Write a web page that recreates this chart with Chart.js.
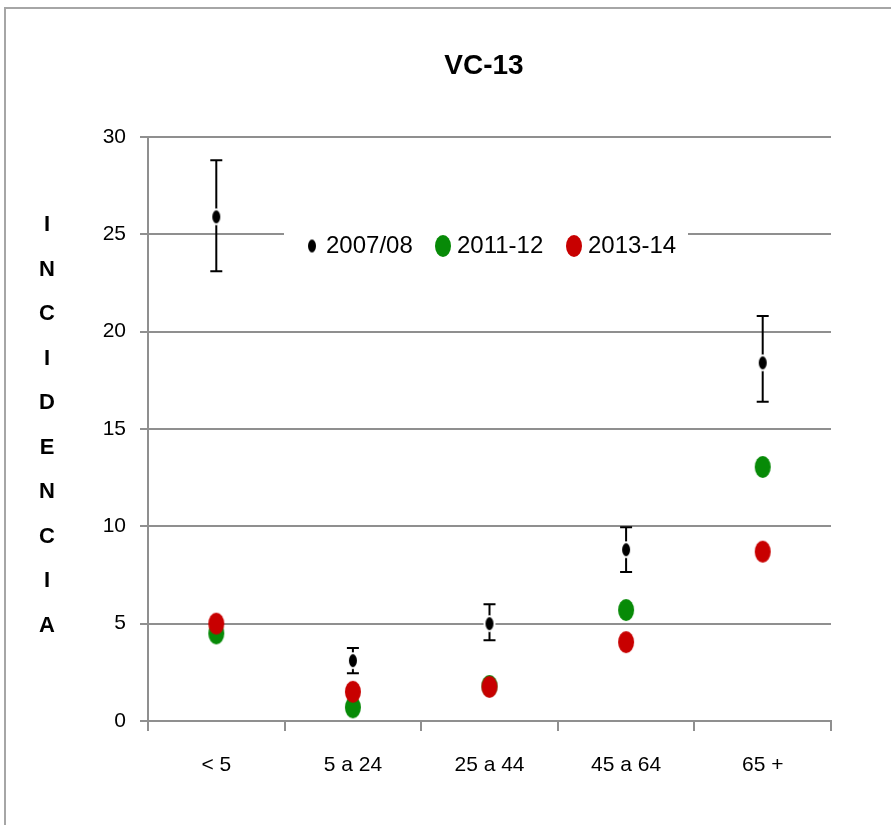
<!DOCTYPE html>
<html>
<head>
<meta charset="utf-8">
<script src="https://cdn.jsdelivr.net/npm/chart.js@4.4.1/dist/chart.umd.min.js"></script>
<style>
  html, body { margin: 0; padding: 0; background: #fff; }
  #wrap { width: 891px; height: 825px; }
</style>
</head>
<body>
<div id="wrap"><canvas id="chart" width="891" height="825"></canvas></div>
<script>
// Datos
const ageGroups = ['< 5', '5 a 24', '25 a 44', '45 a 64', '65 +'];
const season0708 = [25.9, 3.1, 5.0, 8.8, 18.4];
const err0708Low = [23.1, 2.45, 4.15, 7.65, 16.4];
const err0708High = [28.8, 3.75, 6.0, 9.95, 20.8];
const season1112 = [4.5, 0.7, 1.8, 5.7, 13.05];
const season1314 = [5.0, 1.5, 1.75, 4.05, 8.7];
const yTicks = [0, 5, 10, 15, 20, 25, 30];
const axisLetters = ['I', 'N', 'C', 'I', 'D', 'E', 'N', 'C', 'I', 'A'];

const FONT = '"Liberation Sans", Arial, sans-serif';
const GRID = '#8f8f8f';

// punto elíptico (la imagen original está algo estirada en vertical)
function ellipse(w, h, color, outline) {
  const pad = outline ? 2 : 0;
  const c = document.createElement('canvas');
  c.width = w + pad * 2 + 2;
  c.height = h + pad * 2 + 2;
  const ctx = c.getContext('2d');
  ctx.beginPath();
  ctx.ellipse(c.width / 2, c.height / 2, w / 2, h / 2, 0, 0, Math.PI * 2);
  if (outline) {
    ctx.lineWidth = pad * 2;
    ctx.strokeStyle = '#fff';
    ctx.stroke();
  }
  ctx.fillStyle = color;
  ctx.fill();
  return c;
}

const dotBlack = ellipse(8, 13, '#000', true);
const dotGreen = ellipse(16, 22, '#078a07', false);
const dotRed = ellipse(16, 22, '#c80000', false);

const frame = {
  id: 'frame',
  beforeDraw(chart) {
    const ctx = chart.ctx;
    ctx.save();
    ctx.fillStyle = '#fff';
    ctx.fillRect(0, 0, chart.width, chart.height);
    ctx.strokeStyle = '#a6a6a6';
    ctx.lineWidth = 2;
    ctx.beginPath();
    ctx.moveTo(5, chart.height);
    ctx.lineTo(5, 8);
    ctx.lineTo(chart.width, 8);
    ctx.stroke();
    ctx.restore();
  },
  afterDraw(chart) {
    const ctx = chart.ctx;
    ctx.save();
    ctx.fillStyle = '#000';
    ctx.textAlign = 'center';
    ctx.textBaseline = 'middle';
    ctx.font = 'bold 28px ' + FONT;
    ctx.fillText('VC-13', 484, 66);
    ctx.font = 'bold 22px ' + FONT;
    axisLetters.forEach((l, i) => ctx.fillText(l, 47, 225 + i * 44.5));
    ctx.restore();
  }
};

// barras de error de la temporada 2007/08
const errorBars = {
  id: 'errorBars',
  beforeDatasetsDraw(chart) {
    const { ctx, scales: { x, y } } = chart;
    ctx.save();
    ctx.strokeStyle = '#000';
    ctx.lineWidth = 2;
    ageGroups.forEach((g, i) => {
      const px = x.getPixelForValue(i);
      const top = y.getPixelForValue(err0708High[i]);
      const bot = y.getPixelForValue(err0708Low[i]);
      ctx.beginPath();
      ctx.moveTo(px, top); ctx.lineTo(px, bot);
      ctx.moveTo(px - 6, top); ctx.lineTo(px + 6, top);
      ctx.moveTo(px - 6, bot); ctx.lineTo(px + 6, bot);
      ctx.stroke();
    });
    ctx.restore();
  }
};

// leyenda dentro del área de trazado
const insideLegend = {
  id: 'insideLegend',
  afterDatasetsDraw(chart) {
    const ctx = chart.ctx;
    ctx.save();
    ctx.fillStyle = '#fff';
    ctx.fillRect(284, 228, 404, 36);
    ctx.fillStyle = '#000';
    ctx.font = '24px ' + FONT;
    ctx.textBaseline = 'middle';
    const items = [
      { img: dotBlack, cx: 312, tx: 326, text: '2007/08' },
      { img: dotGreen, cx: 443, tx: 457, text: '2011-12' },
      { img: dotRed, cx: 574, tx: 588, text: '2013-14' }
    ];
    items.forEach(it => {
      ctx.drawImage(it.img, it.cx - it.img.width / 2, 246 - it.img.height / 2);
      ctx.fillText(it.text, it.tx, 246);
    });
    ctx.restore();
  }
};

new Chart(document.getElementById('chart'), {
  type: 'line',
  data: {
    labels: ageGroups,
    datasets: [
      { label: '2007/08', data: season0708, pointStyle: dotBlack, showLine: false, order: 0 },
      { label: '2013-14', data: season1314, pointStyle: dotRed, showLine: false, order: 1 },
      { label: '2011-12', data: season1112, pointStyle: dotGreen, showLine: false, order: 2 }
    ]
  },
  options: {
    responsive: false,
    animation: false,
    events: [],
    layout: { padding: { left: 0, top: 137, right: 60, bottom: 0 } },
    plugins: { legend: { display: false }, tooltip: { enabled: false }, title: { display: false } },
    scales: {
      x: {
        offset: true,
        grid: { offset: true, drawOnChartArea: false, drawTicks: true, tickLength: 10, color: GRID, lineWidth: 2 },
        border: { color: GRID, width: 2 },
        ticks: { color: '#000', font: { family: FONT, size: 21 }, padding: 22 },
        afterFit: s => { s.height = 104; }
      },
      y: {
        min: 0,
        max: 30,
        afterBuildTicks: s => { s.ticks = yTicks.map(v => ({ value: v })); },
        grid: { color: GRID, lineWidth: 2, tickLength: 8 },
        border: { color: GRID, width: 2 },
        ticks: { color: '#000', font: { family: FONT, size: 21 }, padding: 14 },
        afterFit: s => { s.width = 148; }
      }
    }
  },
  plugins: [frame, errorBars, insideLegend]
});
</script>
</body>
</html>
